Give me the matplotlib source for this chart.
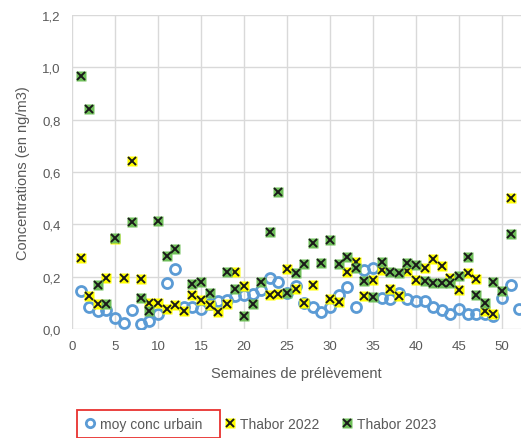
#Weekly concentrations: urban average vs Thabor 2022 / 2023

import numpy as np
import matplotlib.pyplot as plt
from matplotlib.lines import Line2D
from matplotlib.patches import Rectangle
from matplotlib.legend_handler import HandlerTuple
from matplotlib.ticker import FuncFormatter

nan = np.nan
weeks = np.arange(1, 53)

moy_urbain = [0.145, 0.086, 0.071, 0.072, 0.044, 0.024, 0.074, 0.019, 0.032, 0.057,
              0.176, 0.229, 0.083, 0.083, 0.076, 0.095, 0.106, 0.112, 0.125, 0.131,
              0.134, 0.150, 0.195, 0.180, 0.137, 0.163, 0.100, 0.085, 0.064, 0.086,
              0.132, 0.161, 0.086, 0.226, 0.235, 0.117, 0.115, 0.137, 0.114, 0.108,
              0.108, 0.086, 0.073, 0.057, 0.076, 0.057, 0.058, 0.058, 0.052, 0.117,
              0.170, 0.075]

thabor_2022 = [0.270, 0.127, 0.095, 0.197, 0.345, 0.197, 0.643, 0.193, 0.100, 0.100,
               0.078, 0.092, 0.070, 0.132, 0.110, 0.093, 0.067, 0.095, 0.219, 0.163,
               nan, nan, 0.132, 0.134, 0.229, 0.152, 0.100, 0.170, nan, 0.115,
               0.102, 0.218, 0.257, 0.127, 0.189, 0.226, 0.155, 0.125, 0.222, 0.188,
               0.232, 0.267, 0.240, 0.195, 0.151, 0.216, 0.193, 0.068, 0.057, nan,
               0.500, nan]

thabor_2023 = [0.967, 0.840, 0.170, 0.095, 0.346, nan, 0.410, 0.117, 0.070, 0.413,
               0.278, 0.304, nan, 0.172, 0.180, 0.139, nan, 0.219, 0.155, 0.051,
               0.095, 0.180, 0.369, 0.525, 0.137, 0.214, 0.248, 0.329, 0.251, 0.341,
               0.249, 0.276, 0.235, 0.183, 0.123, 0.256, 0.218, 0.214, 0.251, 0.246,
               0.183, 0.176, 0.176, 0.176, 0.201, 0.277, 0.132, 0.100, 0.179, 0.144,
               0.363, nan]

blue = '#5B9BD5'
yellow = '#FFFF00'
green = '#70C05A'
grey = '#595959'

plt.rcParams['font.family'] = ['Liberation Sans', 'DejaVu Sans']

fig = plt.figure(figsize=(5.21, 4.39), dpi=100)
ax = fig.add_axes([0.138, 0.248, 0.862, 0.716])

ax.plot(weeks, moy_urbain, 'o', markersize=7.2, markerfacecolor='none',
        markeredgecolor=blue, markeredgewidth=2.0, zorder=3)

for vals, col, z in [(thabor_2022, yellow, 4), (thabor_2023, green, 5)]:
    ax.plot(weeks, vals, 's', markersize=6.5, markerfacecolor=col,
            markeredgecolor='none', zorder=z)
    ax.plot(weeks, vals, 'x', markersize=5.8, color='#1a1a1a',
            markeredgewidth=1.4, zorder=z)

ax.set_xlim(0, 52.2)
ax.set_ylim(0, 1.2)
ax.set_xticks(np.arange(0, 51, 5))
ax.set_yticks(np.arange(0, 1.21, 0.2))
ax.yaxis.set_major_formatter(FuncFormatter(lambda v, p: ('%.1f' % v).replace('.', ',')))
ax.grid(True, color='#D9D9D9', linewidth=1.0)
ax.set_axisbelow(True)
for s in ax.spines.values():
    s.set_visible(False)
ax.tick_params(length=0, colors=grey, labelsize=9.5, pad=8)

ax.set_xlabel('Semaines de prélèvement', color=grey, fontsize=10.5, labelpad=10)
ax.set_ylabel('Concentrations (en ng/m3)', color=grey, fontsize=10.5, labelpad=9)

#legend at the bottom
h_blue = Line2D([], [], marker='o', linestyle='none', markersize=6,
                markerfacecolor='none', markeredgecolor=blue, markeredgewidth=2)
h_y = (Line2D([], [], marker='s', linestyle='none', markersize=6.5,
              markerfacecolor=yellow, markeredgecolor='none'),
       Line2D([], [], marker='x', linestyle='none', markersize=5.8,
              color='#1a1a1a', markeredgewidth=1.4))
h_g = (Line2D([], [], marker='s', linestyle='none', markersize=6.5,
              markerfacecolor=green, markeredgecolor='none'),
       Line2D([], [], marker='x', linestyle='none', markersize=5.8,
              color='#1a1a1a', markeredgewidth=1.4))
lgnd = fig.legend([h_blue, h_y, h_g], ['moy conc urbain', 'Thabor 2022', 'Thabor 2023'],
                  handler_map={tuple: HandlerTuple(ndivide=1)},
                  loc='center', bbox_to_anchor=(0.5, 0.032), ncol=3, frameon=False,
                  fontsize=10, handlelength=0.8, handletextpad=0.3, columnspacing=1.6)
for t in lgnd.get_texts():
    t.set_color(grey)

#red box around first legend entry
fig.patches.append(Rectangle((77 / 521, 0.0), 143 / 521, 28 / 439,
                             transform=fig.transFigure, fill=False,
                             edgecolor='#E8312F', linewidth=1.3))

plt.savefig('out.png', dpi=100)
